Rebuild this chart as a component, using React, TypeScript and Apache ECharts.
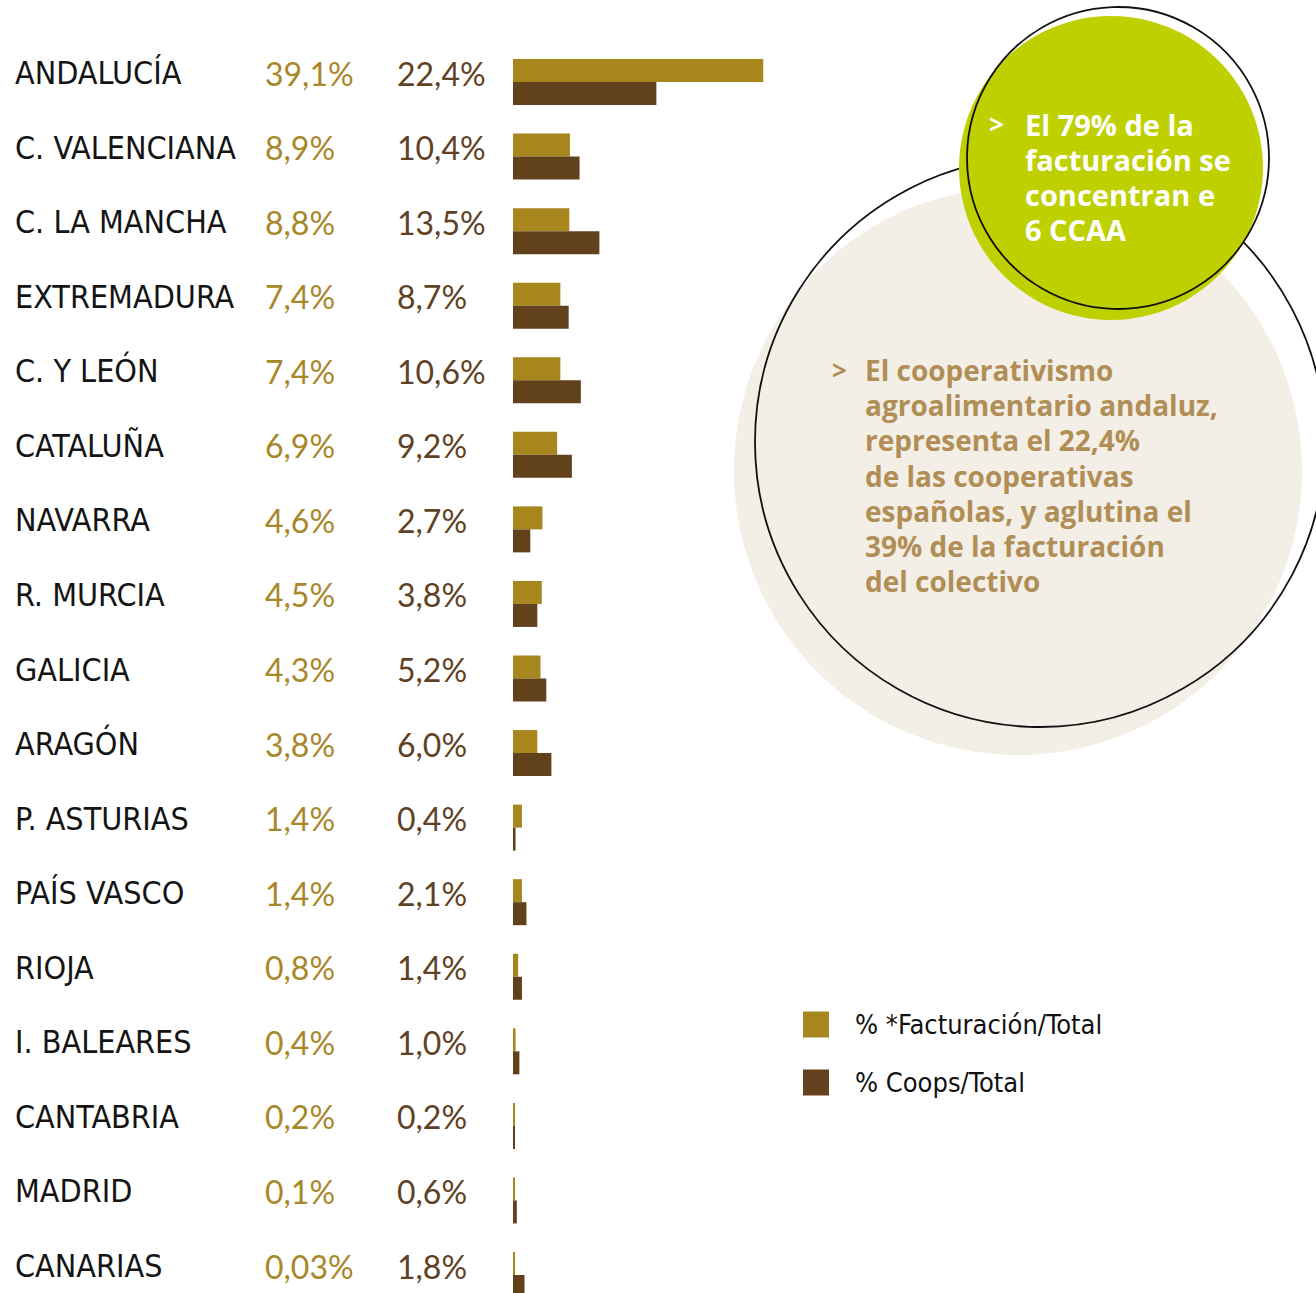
import React, { useEffect, useRef } from "react";
import * as echarts from "echarts";

const regions = [
  "ANDALUCÍA", "C. VALENCIANA", "C. LA MANCHA", "EXTREMADURA", "C. Y LEÓN", "CATALUÑA",
  "NAVARRA", "R. MURCIA", "GALICIA", "ARAGÓN", "P. ASTURIAS", "PAÍS VASCO", "RIOJA",
  "I. BALEARES", "CANTABRIA", "MADRID", "CANARIAS",
];
const facturacion = [39.1, 8.9, 8.8, 7.4, 7.4, 6.9, 4.6, 4.5, 4.3, 3.8, 1.4, 1.4, 0.8, 0.4, 0.2, 0.1, 0.03];
const coops = [22.4, 10.4, 13.5, 8.7, 10.6, 9.2, 2.7, 3.8, 5.2, 6.0, 0.4, 2.1, 1.4, 1.0, 0.2, 0.6, 1.8];
const seriesNames = ["% *Facturación/Total", "% Coops/Total"];
const greenLines = ["El 79% de la", "facturación se", "concentran e", "6 CCAA"];
const beigeLines = [
  "El cooperativismo", "agroalimentario andaluz,", "representa el 22,4%", "de las cooperativas",
  "españolas, y aglutina el", "39% de la facturación", "del colectivo",
];

const FACT_COLOR = "#A8861E";
const COOP_COLOR = "#62421C";

const fmt = (v: number) => v.toFixed(v < 0.1 ? 2 : 1).replace(".", ",") + "%";

export default function App() {
  const ref = useRef<HTMLDivElement>(null);
  useEffect(() => {
    if (!ref.current) return;
    const chart = echarts.init(ref.current, undefined, { renderer: "svg" });
    const textFont = "'Open Sans', Roboto, sans-serif";
    const narrow = "'Liberation Sans Narrow', 'DejaVu Sans Condensed', sans-serif";
    const graphics: any[] = [
      { type: "circle", shape: { cx: 1018, cy: 471, r: 284 }, style: { fill: "#F3EFE7" }, z: 0 },
      { type: "circle", shape: { cx: 1040, cy: 442, r: 285 }, style: { fill: "none", stroke: "#111", lineWidth: 1.8 }, z: 1 },
      { type: "circle", shape: { cx: 1111, cy: 168, r: 152 }, style: { fill: "#BFD000" }, z: 2 },
      { type: "circle", shape: { cx: 1118, cy: 158, r: 151 }, style: { fill: "none", stroke: "#111", lineWidth: 1.8 }, z: 3 },
      {
        type: "text", x: 989, y: 124, z: 4,
        style: { text: ">", fill: "#fff", font: `bold 26px ${textFont}`, verticalAlign: "middle" },
      },
      {
        type: "text", x: 832, y: 370, z: 4,
        style: { text: ">", fill: "#B08E55", font: `bold 26px ${textFont}`, verticalAlign: "middle" },
      },
    ];
    greenLines.forEach((t, i) => {
      graphics.push({
        type: "text", x: 1025, y: 124 + i * 35.3, z: 4,
        style: { text: t, fill: "#fff", font: `bold 29px ${textFont}`, verticalAlign: "middle" },
      });
    });
    beigeLines.forEach((t, i) => {
      graphics.push({
        type: "text", x: 865, y: 370 + i * 35.2, z: 4,
        style: { text: t, fill: "#B08E55", font: `bold 28px ${textFont}`, verticalAlign: "middle" },
      });
    });

    chart.setOption({
      animation: false,
      backgroundColor: "#fff",
      grid: { left: 513, top: 82, width: 640, height: 1193 },
      legend: {
        orient: "vertical",
        left: 803,
        top: 1011,
        padding: 0,
        itemWidth: 26,
        itemHeight: 26,
        itemGap: 31,
        icon: "rect",
        data: seriesNames,
        textStyle: { fontSize: 27, color: "#111", fontFamily: narrow, padding: [0, 0, 0, 21] },
      },
      xAxis: { type: "value", min: 0, max: 100, show: false },
      yAxis: {
        type: "category",
        data: regions,
        inverse: true,
        boundaryGap: false,
        axisLine: { show: false },
        axisTick: { show: false },
        splitLine: { show: false },
        axisLabel: {
          interval: 0,
          margin: 498,
          align: "left",
          padding: [0, 0, 18, 0],
          formatter: (value: string, index: number) =>
            `{n|${value}}{f|${fmt(facturacion[index])}}{c|${fmt(coops[index])}}`,
          rich: {
            n: { width: 250, fontSize: 32, color: "#141414", fontFamily: narrow },
            f: { width: 132, fontSize: 32, color: "#A8872A", fontFamily: "Lato, sans-serif", fontWeight: 400 },
            c: { fontSize: 32, color: "#5F4124", fontFamily: "Lato, sans-serif", fontWeight: 400 },
          },
        },
      },
      series: [
        {
          name: seriesNames[0], type: "bar", data: facturacion, barWidth: 23, barGap: "0%",
          barMinHeight: 2, itemStyle: { color: FACT_COLOR },
        },
        {
          name: seriesNames[1], type: "bar", data: coops, barWidth: 23, barGap: "0%",
          barMinHeight: 2, itemStyle: { color: COOP_COLOR },
        },
      ],
      graphic: graphics,
    });
    return () => chart.dispose();
  }, []);
  return <div ref={ref} style={{ position: "fixed", left: 0, top: 0, width: 1316, height: 1293 }} />;
}
